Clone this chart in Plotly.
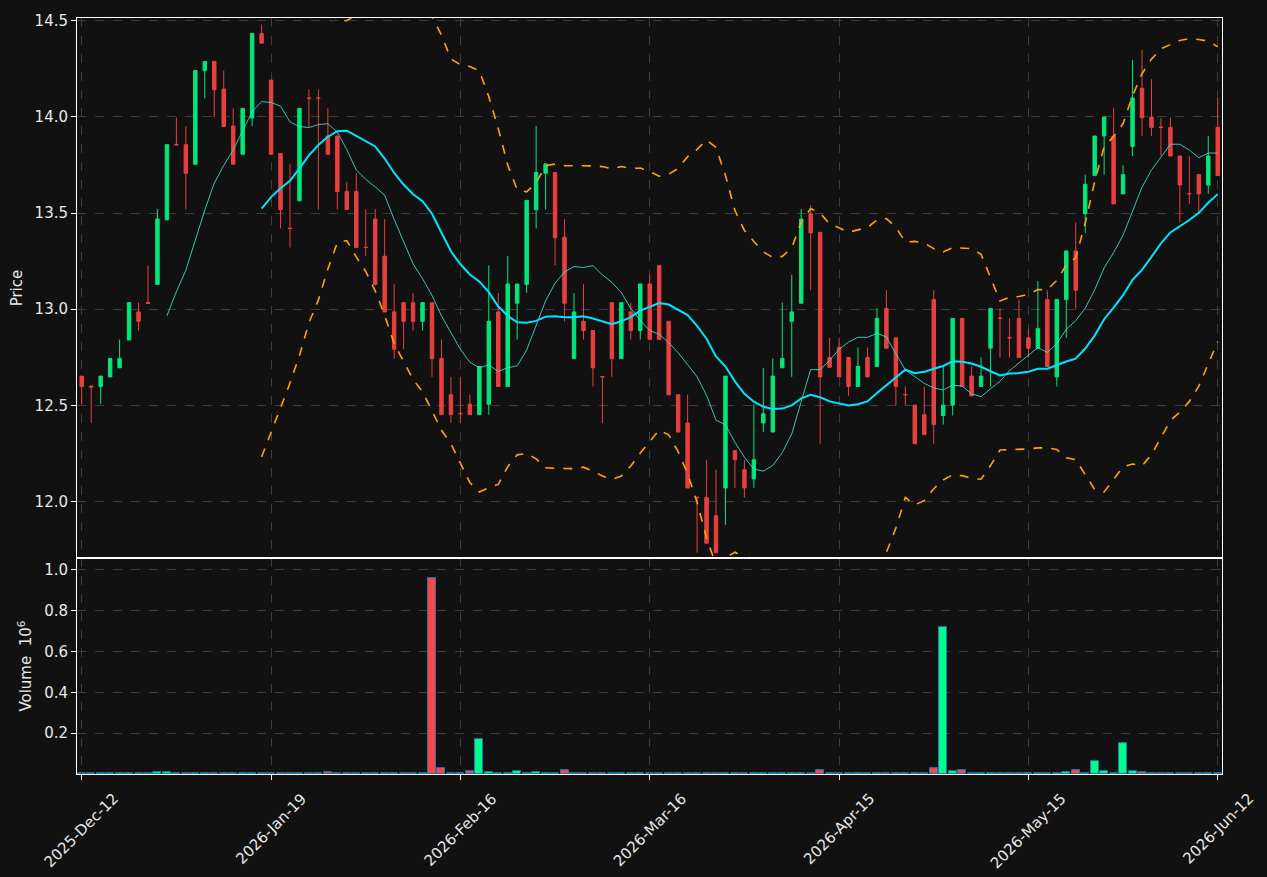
import pandas as pd
import plotly.graph_objects as go

# ---------------- data ----------------
tick_positions = [0, 20, 40, 60, 80, 100, 120]
tick_labels = ["2025-Dec-12", "2026-Jan-19", "2026-Feb-16", "2026-Mar-16",
               "2026-Apr-15", "2026-May-15", "2026-Jun-12"]

opens = [12.652, 12.600, 12.598, 12.648, 12.695, 12.840, 12.986, 13.035, 13.129, 13.465,
         13.858, 13.856, 13.754, 14.241, 14.289, 14.145, 13.953, 13.806, 13.995, 14.434,
         14.192, 13.810, 13.422, 13.564, 14.099, 14.099, 13.901, 13.901, 13.612, 13.612,
         13.323, 13.469, 13.276, 12.986, 13.034, 13.034, 12.937, 13.034, 12.743, 12.555,
         12.458, 12.506, 12.452, 12.506, 12.986, 12.598, 13.031, 13.129, 13.517, 13.707,
         13.711, 13.375, 12.743, 12.937, 12.889, 12.650, 13.034, 12.743, 12.986, 12.889,
         13.131, 13.228, 12.937, 12.555, 12.408, 12.022, 12.020, 11.926, 12.070, 12.264,
         12.165, 12.117, 12.408, 12.361, 12.695, 12.937, 13.031, 13.497, 13.400, 12.749,
         12.801, 12.749, 12.598, 12.749, 12.702, 13.004, 12.851, 12.557, 12.501, 12.451,
         13.050, 12.447, 12.501, 12.952, 12.652, 12.598, 12.797, 12.954, 12.853, 12.952,
         12.851, 12.797, 13.050, 12.648, 13.050, 13.303, 13.496, 13.695, 13.901, 13.901,
         13.600, 13.847, 14.149, 14.000, 13.948, 13.946, 13.797, 13.602, 13.700, 13.646,
         13.946]
highs = [12.652, 12.600, 12.652, 12.743, 12.842, 13.034, 13.034, 13.228, 13.521, 13.856,
         13.998, 13.952, 14.242, 14.289, 14.289, 14.241, 14.045, 14.045, 14.434, 14.481,
         14.192, 13.810, 13.756, 14.045, 14.144, 14.144, 14.045, 13.901, 13.662, 13.707,
         13.519, 13.521, 13.469, 13.131, 13.034, 13.084, 13.034, 13.034, 12.842, 12.648,
         12.648, 12.555, 12.702, 13.228, 13.084, 13.276, 13.131, 13.566, 13.952, 13.756,
         13.711, 13.469, 13.084, 13.131, 12.889, 12.650, 13.034, 13.034, 13.034, 13.131,
         13.180, 13.228, 12.937, 12.555, 12.555, 12.022, 12.217, 12.165, 12.652, 12.264,
         12.217, 12.506, 12.695, 12.743, 13.034, 13.180, 13.521, 13.542, 13.400, 12.851,
         12.851, 12.749, 12.801, 12.801, 13.004, 13.099, 12.851, 12.598, 12.501, 12.598,
         13.099, 12.702, 12.952, 12.952, 12.702, 12.749, 13.004, 13.004, 12.952, 13.050,
         12.899, 13.147, 13.099, 13.050, 13.303, 13.451, 13.700, 13.901, 14.000, 14.048,
         13.749, 14.296, 14.350, 14.197, 13.996, 13.996, 13.797, 13.797, 13.700, 13.901,
         14.099]
lows = [12.506, 12.408, 12.506, 12.648, 12.695, 12.840, 12.889, 13.030, 13.129, 13.465,
        13.855, 13.519, 13.754, 14.097, 13.998, 13.950, 13.754, 13.806, 13.952, 14.384,
        13.806, 13.420, 13.321, 13.564, 13.950, 13.519, 13.806, 13.519, 13.519, 13.321,
        13.276, 13.129, 12.986, 12.743, 12.792, 12.889, 12.889, 12.648, 12.452, 12.408,
        12.408, 12.452, 12.452, 12.452, 12.598, 12.598, 12.842, 13.084, 13.420, 13.519,
        13.228, 12.937, 12.743, 12.842, 12.598, 12.408, 12.648, 12.743, 12.842, 12.842,
        12.842, 12.842, 12.555, 12.361, 12.070, 11.733, 11.783, 11.733, 11.878, 12.070,
        12.020, 12.070, 12.361, 12.361, 12.695, 12.648, 13.031, 13.099, 12.300, 12.698,
        12.648, 12.549, 12.598, 12.648, 12.702, 12.797, 12.501, 12.501, 12.300, 12.348,
        12.300, 12.400, 12.447, 12.598, 12.549, 12.598, 12.598, 12.749, 12.749, 12.749,
        12.749, 12.797, 12.702, 12.598, 12.851, 13.004, 13.397, 13.695, 13.700, 13.548,
        13.600, 13.797, 13.901, 13.901, 13.797, 13.797, 13.452, 13.548, 13.501, 13.600,
        13.695]
closes = [12.598, 12.595, 12.652, 12.743, 12.743, 13.034, 12.937, 13.030, 13.469, 13.856,
          13.855, 13.707, 14.242, 14.289, 14.142, 13.950, 13.754, 14.045, 14.434, 14.384,
          13.806, 13.519, 13.420, 14.045, 14.097, 14.097, 13.806, 13.612, 13.519, 13.321,
          13.321, 13.129, 12.986, 12.792, 12.937, 12.937, 13.034, 12.743, 12.452, 12.452,
          12.456, 12.452, 12.702, 12.937, 12.598, 13.131, 13.131, 13.566, 13.711, 13.756,
          13.372, 13.031, 12.986, 12.889, 12.695, 12.648, 12.743, 13.034, 12.889, 13.131,
          12.842, 12.842, 12.555, 12.361, 12.070, 12.020, 11.783, 11.733, 12.652, 12.217,
          12.070, 12.217, 12.456, 12.652, 12.743, 12.986, 13.469, 13.397, 12.648, 12.698,
          12.648, 12.598, 12.702, 12.648, 12.952, 12.797, 12.598, 12.555, 12.300, 12.348,
          12.400, 12.501, 12.952, 12.598, 12.549, 12.652, 13.004, 12.952, 12.851, 12.749,
          12.797, 12.899, 12.702, 13.050, 13.303, 13.099, 13.650, 13.901, 14.000, 13.548,
          13.700, 14.099, 13.996, 13.946, 13.946, 13.797, 13.646, 13.600, 13.600, 13.797,
          13.695]
volumes_m = [0.006, 0.006, 0.002, 0.002, 0.002, 0.002, 0.002, 0.005, 0.010, 0.010,
             0.005, 0.002, 0.005, 0.002, 0.002, 0.002, 0.002, 0.002, 0.002, 0.002,
             0.005, 0.005, 0.002, 0.002, 0.002, 0.005, 0.010, 0.002, 0.002, 0.002,
             0.002, 0.005, 0.005, 0.002, 0.002, 0.002, 0.002, 0.961, 0.029, 0.005,
             0.005, 0.015, 0.172, 0.010, 0.002, 0.005, 0.015, 0.005, 0.010, 0.002,
             0.005, 0.020, 0.002, 0.002, 0.002, 0.002, 0.002, 0.002, 0.002, 0.004,
             0.002, 0.002, 0.002, 0.002, 0.002, 0.005, 0.005, 0.002, 0.002, 0.002,
             0.002, 0.002, 0.002, 0.002, 0.005, 0.005, 0.005, 0.005, 0.020, 0.002,
             0.002, 0.002, 0.002, 0.005, 0.002, 0.002, 0.005, 0.002, 0.005, 0.002,
             0.030, 0.721, 0.015, 0.020, 0.005, 0.005, 0.005, 0.002, 0.002, 0.002,
             0.002, 0.005, 0.002, 0.002, 0.010, 0.020, 0.005, 0.064, 0.015, 0.002,
             0.152, 0.015, 0.010, 0.002, 0.005, 0.002, 0.005, 0.005, 0.002, 0.002,
             0.005]

# ---------------- derived ----------------
idx = list(range(len(closes)))
cs = pd.Series(closes)
ma10 = cs.rolling(10).mean()
ma20 = cs.rolling(20).mean()
sd20 = cs.rolling(20).std(ddof=0)
bb_up = ma20 + 2 * sd20
bb_lo = ma20 - 2 * sd20

UP = "#02e67b"
DOWN = "#e8403f"
VUP = "#00ff88"
VDOWN = "#ff4646"
vcolors = [VUP if c >= o else VDOWN for o, c in zip(opens, closes)]

GRID = "#3c3c3c"
TXT = "#e8e8e8"
FONT = "DejaVu Sans"
FS = 15

fig = go.Figure()
fig.add_trace(go.Candlestick(
    x=idx, open=opens, high=highs, low=lows, close=closes,
    xaxis="x2", yaxis="y2", whiskerwidth=0,
    increasing=dict(line=dict(color=UP, width=1), fillcolor=UP),
    decreasing=dict(line=dict(color=DOWN, width=1), fillcolor=DOWN),
    showlegend=False, hoverinfo="skip"))
fig.add_trace(go.Scatter(x=idx, y=ma10, mode="lines", xaxis="x2", yaxis="y2",
                         line=dict(color="rgba(64,224,208,0.85)", width=1), showlegend=False))
fig.add_trace(go.Scatter(x=idx, y=ma20, mode="lines", xaxis="x2", yaxis="y2",
                         line=dict(color="#00e5ff", width=2), showlegend=False))
fig.add_trace(go.Scatter(x=idx, y=bb_up, mode="lines", xaxis="x2", yaxis="y2",
                         line=dict(color="#ffa500", width=1.6, dash="dash"), showlegend=False))
fig.add_trace(go.Scatter(x=idx, y=bb_lo, mode="lines", xaxis="x2", yaxis="y2",
                         line=dict(color="#ffa500", width=1.6, dash="dash"), showlegend=False))
fig.add_trace(go.Bar(x=idx, y=volumes_m, xaxis="x", yaxis="y", width=0.85,
                     marker=dict(color=vcolors, line=dict(color="#1f77b4", width=1)),
                     showlegend=False))

axis_common = dict(showline=True, mirror=True, linecolor="white", linewidth=1,
                   showgrid=True, gridcolor=GRID, griddash="dash", gridwidth=1,
                   zeroline=False, tickfont=dict(family=FONT, size=FS, color=TXT))

# rotated date labels centred on their ticks (matplotlib-style)
annotations = [dict(text=lab, x=pos, xref="x", y=0, yref="y domain",
                    xanchor="center", yanchor="top", yshift=-13, textangle=-45,
                    showarrow=False, font=dict(family=FONT, size=FS, color=TXT))
               for pos, lab in zip(tick_positions, tick_labels)]

split = 217 / 760
fig.update_layout(
    width=1267, height=877,
    margin=dict(l=77, r=45, t=14, b=103),
    paper_bgcolor="#111111", plot_bgcolor="#111111",
    font=dict(family=FONT, size=FS, color=TXT),
    boxgap=0.48,
    bargap=0,
    annotations=annotations,
    xaxis=dict(domain=[0, 1], anchor="y", range=[-0.5, 120.45],
               tickmode="array", tickvals=tick_positions, showticklabels=False,
               ticks="outside", ticklen=5, tickcolor="white",
               rangeslider=dict(visible=False), **axis_common),
    xaxis2=dict(domain=[0, 1], anchor="y2", matches="x", range=[-0.5, 120.45],
                tickmode="array", tickvals=tick_positions, showticklabels=False,
                ticks="", rangeslider=dict(visible=False), **axis_common),
    yaxis=dict(domain=[0, split], anchor="x", range=[0, 1.058],
               tickmode="array", tickvals=[0.2, 0.4, 0.6, 0.8, 1.0],
               ticktext=["0.2", "0.4", "0.6", "0.8", "1.0"],
               ticks="outside", ticklen=5, tickcolor="white",
               title=dict(text="Volume  10<sup>6</sup>", standoff=8,
                          font=dict(family=FONT, size=FS, color=TXT)),
               **axis_common),
    yaxis2=dict(domain=[split, 1], anchor="x2", range=[11.705, 14.515],
                tickmode="array", tickvals=[12.0, 12.5, 13.0, 13.5, 14.0, 14.5],
                ticktext=["12.0", "12.5", "13.0", "13.5", "14.0", "14.5"],
                ticks="outside", ticklen=5, tickcolor="white",
                title=dict(text="Price", standoff=8,
                           font=dict(family=FONT, size=FS, color=TXT)),
                **axis_common),
)

fig.write_html("out.html")
